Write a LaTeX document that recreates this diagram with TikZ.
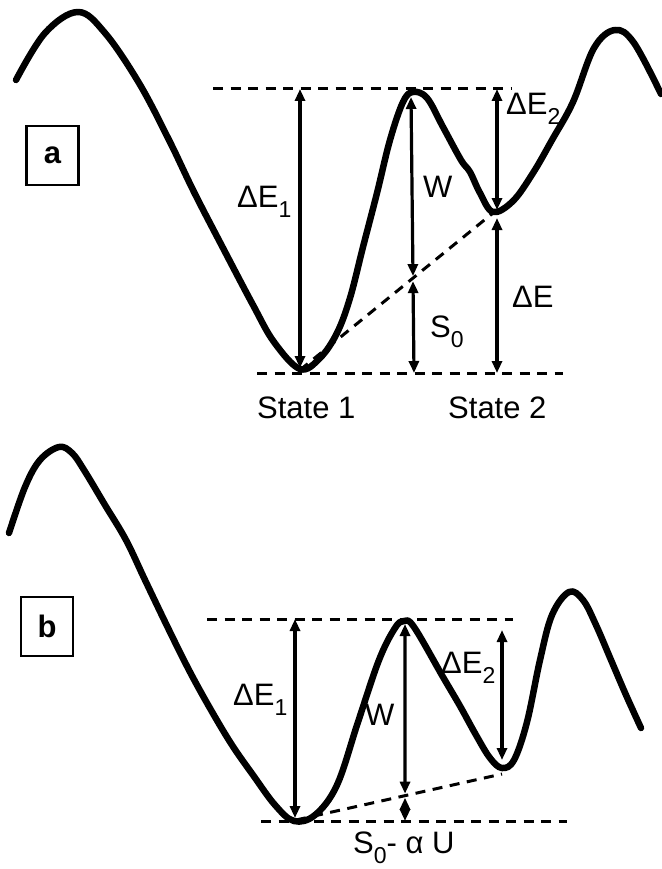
\documentclass[tikz,border=0pt]{standalone}
\usepackage{fontspec}
\setmainfont{Liberation Sans}
\usepackage{tikz}
\usetikzlibrary{arrows.meta, calc}

\newcommand{\idx}[1]{\raisebox{-10pt}{\fontsize{23}{23}\selectfont #1}}

\begin{document}
\begin{tikzpicture}[
    x=1pt, y=-1pt,
    curve/.style={line width=6.5pt, line join=round, line cap=round},
    level/.style={line width=3pt, dash pattern=on 10pt off 7.5pt},
    gap/.style={line width=3.2pt, {Triangle[length=12pt,width=10pt]}-{Triangle[length=12pt,width=10pt]}},
    lbl/.style={font=\fontsize{31}{32}\selectfont, inner sep=0pt, anchor=base west},
    tag/.style={draw, line width=2.6pt, minimum width=52pt, minimum height=59pt, font=\fontsize{31}{31}\selectfont\bfseries}
]
\useasboundingbox (0,0) rectangle (661,869);

% ---------------- panel a ----------------
\node[tag] (taga) at (52.5,155.5) {a};

\draw[curve] plot[smooth, tension=0.6] coordinates {
    (16,80) (45,33) (78,12) (105,33) (139,83) (169,140) (194,192) (223,248)
    (253,305) (274,342) (300,369) (320,358) (337,333) (350,298) (363,247)
    (377,193) (390,140) (403,102) (413,92) (427,98) (443,127) (461,160)
    (470,172) (480,193) (493,212) (513,201) (533,173) (552,140) (573,102)
    (594,48) (615,30) (634,43) (661,94)};

\coordinate (topa1) at (213,89);   \coordinate (topa2) at (512,89);
\coordinate (bota1) at (257,373);  \coordinate (bota2) at (563,373);
\coordinate (mina1) at (300,370);  \coordinate (mina2) at (493,213);
\coordinate (peaka) at (411,97);   \coordinate (dropa) at (414,373);
\coordinate (cuta) at (intersection of mina1--mina2 and peaka--dropa);

\draw[level] (topa1) -- (topa2);
\draw[level] (bota1) -- (bota2);
\draw[level] (mina1) -- (mina2);

\draw[gap] (300,89) -- (300,368);
\draw[gap] (peaka) -- ($(cuta)+(0,-2)$);
\draw[gap] ($(cuta)+(0,3)$) -- (dropa);
\draw[gap] (497,89) -- (497,210);
\draw[gap] (497,218) -- (497,373);

\node[lbl] (de1a) at (237,207) {ΔE\idx{1}};
\node[lbl] (wa) at (423,197) {W};
\node[lbl] (de2a) at (506,115) {ΔE\idx{2}};
\node[lbl] (s0a) at (430,337) {S\idx{0}};
\node[lbl] (dea) at (512,307) {ΔE};
\node[lbl] (st1) at (257,418) {State 1};
\node[lbl] (st2) at (448,418) {State 2};

% ---------------- panel b ----------------
\node[tag] (tagb) at (47,626.5) {b};

\draw[curve] plot[smooth, tension=0.6] coordinates {
    (9,533) (25,487) (40,460) (59,447) (72,453) (84,470) (105,505) (126,540)
    (145,580) (169,630) (190,672) (211,710) (232,745) (253,775) (275,805)
    (294,821) (315,815) (337,785) (358,722) (379,660) (395,628) (404,621)
    (414,627) (443,677) (460,706) (476,735) (490,758) (502,768) (514,760)
    (527,722) (540,660) (552,615) (569,592) (583,600) (596,625) (611,660)
    (626,695) (641,728)};

\coordinate (topb1) at (207,619);  \coordinate (topb2) at (513,619);
\coordinate (botb1) at (261,821);  \coordinate (botb2) at (567,821);
\coordinate (minb1) at (296,820);  \coordinate (minb2) at (502,774);
\coordinate (peakb) at (405,624);  \coordinate (dropb) at (405,821);
\coordinate (cutb) at (intersection of minb1--minb2 and peakb--dropb);

\draw[level] (topb1) -- (topb2);
\draw[level] (botb1) -- (botb2);
\draw[level] (minb1) -- (minb2);

\draw[gap] (295,619) -- (295,818);
\draw[gap] (peakb) -- ($(cutb)+(0,-2)$);
\draw[gap] ($(cutb)+(0,2)$) -- (dropb);
\draw[gap] (502,630) -- (502,760);

\node[lbl] (de1b) at (233,705) {ΔE\idx{1}};
\node[lbl] (wb) at (365,725) {W};
\node[lbl] (de2b) at (441,673) {ΔE\idx{2}};
\node[lbl] (sub) at (353,853) {S\idx{0}- α U};
\end{tikzpicture}
\end{document}
